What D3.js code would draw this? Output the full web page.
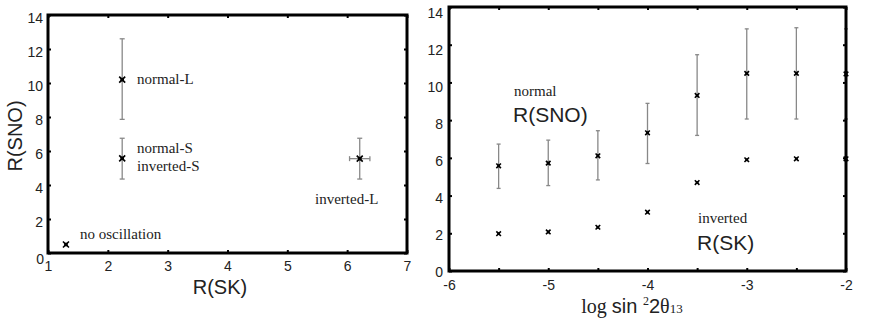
<!DOCTYPE html>
<html><head><meta charset="utf-8">
<script src="https://cdn.jsdelivr.net/npm/d3@7"></script>
<style>
html,body{margin:0;padding:0;background:#fff;}
svg{display:block;}
</style></head>
<body>
<svg id="c" width="872" height="327"></svg>
<script>
// ---- Left panel data: R(SK) vs R(SNO) ----
const leftNames = ["no oscillation", "normal-L", "normal-S", "inverted-L"];
const leftSK = [1.3, 2.24, 2.24, 6.21];
const leftSNO = [0.5, 10.2, 5.57, 5.55];
const leftSNOlo = [0.5, 7.86, 4.35, 4.35];
const leftSNOhi = [0.5, 12.6, 6.75, 6.75];
const leftSKlo = [1.3, 2.24, 2.24, 6.04];
const leftSKhi = [1.3, 2.24, 2.24, 6.38];
const leftXTicks = [1, 2, 3, 4, 5, 6, 7];
const leftYTicks = [0, 2, 4, 6, 8, 10, 12, 14];

// ---- Right panel data: log sin^2 2theta13 ----
const logTheta = [-5.5, -5, -4.5, -4, -3.5, -3, -2.5, -2];
const normalSNO = [5.58, 5.72, 6.11, 7.33, 9.31, 10.48, 10.48, 10.45];
const normalSNOlo = [4.38, 4.53, 4.83, 5.70, 7.19, 8.06, 8.06, 8.06];
const normalSNOhi = [6.73, 6.94, 7.44, 8.89, 11.47, 12.84, 12.9, 12.84];
const invertedSK = [1.98, 2.07, 2.32, 3.12, 4.69, 5.90, 5.95, 5.95];
const rightXTicks = [-6, -5.5, -5, -4.5, -4, -3.5, -3, -2.5, -2];
const rightXLabels = [-6, -5, -4, -3, -2];
const rightYTicks = [0, 2, 4, 6, 8, 10, 12, 14];

const SANS = '"Liberation Sans", Arial, sans-serif';
const SERIF = '"Liberation Serif", "Times New Roman", serif';
const fmt = d => String(d).replace("\u2212", "-");

const svg = d3.select("#c");

function marker(g, x, y, s) {
  g.append("rect").attr("x", x - s * 0.6).attr("y", y - s * 0.6)
    .attr("width", s * 1.2).attr("height", s * 1.2).attr("fill", "#000");
  g.append("path")
    .attr("d", `M${x - s},${y - s}L${x + s},${y + s}M${x - s},${y + s}L${x + s},${y - s}`)
    .attr("stroke", "#000").attr("stroke-width", 1.6);
}

function frameAxes(g, x, y, xTicks, yTicks, tickLen) {
  const [x0, x1] = x.range(), [y0, y1] = y.range();
  const clean = s => { s.select(".domain").remove(); s.selectAll("line").attr("stroke-width", 2); };
  g.append("g").attr("transform", `translate(0,${y0})`)
    .call(d3.axisBottom(x).tickValues(xTicks).tickSizeInner(-tickLen).tickSizeOuter(0).tickFormat(""))
    .call(clean);
  g.append("g").attr("transform", `translate(0,${y1})`)
    .call(d3.axisTop(x).tickValues(xTicks).tickSizeInner(-tickLen).tickSizeOuter(0).tickFormat(""))
    .call(clean);
  g.append("g").attr("transform", `translate(${x0},0)`)
    .call(d3.axisLeft(y).tickValues(yTicks).tickSizeInner(-tickLen).tickSizeOuter(0).tickFormat(""))
    .call(clean);
  g.append("g").attr("transform", `translate(${x1},0)`)
    .call(d3.axisRight(y).tickValues(yTicks).tickSizeInner(-tickLen).tickSizeOuter(0).tickFormat(""))
    .call(clean);
  g.append("rect").attr("x", x0).attr("y", y1).attr("width", x1 - x0).attr("height", y0 - y1)
    .attr("fill", "none").attr("stroke", "#000").attr("stroke-width", 3);
}

// ================= LEFT PANEL =================
{
  const xL = d3.scaleLinear().domain([1, 7]).range([48, 407]);
  const yL = d3.scaleLinear().domain([0, 14]).range([253, 15]);
  const g = svg.append("g");

  const eb = g.append("g").attr("stroke", "#888").attr("stroke-width", 1.3).attr("fill", "none");
  leftSK.forEach((v, i) => {
    if (leftSNOhi[i] !== leftSNOlo[i]) {
      const cx = xL(v);
      eb.append("line").attr("x1", cx).attr("x2", cx).attr("y1", yL(leftSNOlo[i])).attr("y2", yL(leftSNOhi[i]));
      eb.append("line").attr("x1", cx - 2.5).attr("x2", cx + 2.5).attr("y1", yL(leftSNOlo[i])).attr("y2", yL(leftSNOlo[i]));
      eb.append("line").attr("x1", cx - 2.5).attr("x2", cx + 2.5).attr("y1", yL(leftSNOhi[i])).attr("y2", yL(leftSNOhi[i]));
    }
    if (leftSKhi[i] !== leftSKlo[i]) {
      const cy = yL(leftSNO[i]);
      eb.append("line").attr("x1", xL(leftSKlo[i])).attr("x2", xL(leftSKhi[i])).attr("y1", cy).attr("y2", cy);
      eb.append("line").attr("x1", xL(leftSKlo[i])).attr("x2", xL(leftSKlo[i])).attr("y1", cy - 2.5).attr("y2", cy + 2.5);
      eb.append("line").attr("x1", xL(leftSKhi[i])).attr("x2", xL(leftSKhi[i])).attr("y1", cy - 2.5).attr("y2", cy + 2.5);
    }
  });
  leftSK.forEach((v, i) => marker(g, xL(v), yL(leftSNO[i]), 3));

  frameAxes(g, xL, yL, leftXTicks, leftYTicks, 3);

  g.append("g").attr("transform", "translate(0,253)")
    .call(d3.axisBottom(xL).tickValues(leftXTicks).tickSize(0).tickPadding(8).tickFormat(fmt))
    .call(s => s.select(".domain").remove())
    .call(s => s.selectAll("text").attr("font-family", SANS).attr("font-size", 14).attr("fill", "#222"));
  g.append("g").attr("transform", "translate(48,0)")
    .call(d3.axisLeft(yL).tickValues(leftYTicks).tickSize(0).tickPadding(5).tickFormat(fmt))
    .call(s => s.select(".domain").remove())
    .call(s => s.selectAll("text").attr("font-family", SANS).attr("font-size", 14).attr("fill", "#222")
      .attr("dy", d => d === 0 ? "0.75em" : "0.55em").attr("x", d => d === 0 ? -4 : -5));

  g.append("text").attr("font-family", SANS).attr("x", 220).attr("y", 294)
    .attr("text-anchor", "middle").attr("font-size", 20).attr("fill", "#222").text("R(SK)");
  g.append("text").attr("font-family", SANS).attr("transform", "translate(22,136) rotate(-90)")
    .attr("text-anchor", "middle").attr("font-size", 20).attr("fill", "#222").text("R(SNO)");

  const lab = (x, y, t) => g.append("text").attr("font-family", SERIF).attr("x", x).attr("y", y)
    .attr("font-size", 15).attr("fill", "#222").text(t);
  lab(137, 84, leftNames[1]);
  lab(137, 153, leftNames[2]);
  lab(137, 171, "inverted-S");
  lab(315, 204, leftNames[3]);
  lab(80, 239, leftNames[0]);
}

// ================= RIGHT PANEL =================
{
  const xR = d3.scaleLinear().domain([-6, -2]).range([449, 846]);
  const yR = d3.scaleLinear().domain([0, 14]).range([271, 7]);
  const g = svg.append("g");

  const eb = g.append("g").attr("stroke", "#888").attr("stroke-width", 1.3).attr("fill", "none");
  logTheta.forEach((v, i) => {
    const cx = xR(v);
    eb.append("line").attr("x1", cx).attr("x2", cx).attr("y1", yR(normalSNOlo[i])).attr("y2", yR(normalSNOhi[i]));
    eb.append("line").attr("x1", cx - 2).attr("x2", cx + 2).attr("y1", yR(normalSNOlo[i])).attr("y2", yR(normalSNOlo[i]));
    eb.append("line").attr("x1", cx - 2).attr("x2", cx + 2).attr("y1", yR(normalSNOhi[i])).attr("y2", yR(normalSNOhi[i]));
  });
  logTheta.forEach((v, i) => marker(g, xR(v), yR(normalSNO[i]), 2.3));
  logTheta.forEach((v, i) => marker(g, xR(v), yR(invertedSK[i]), 2.3));

  frameAxes(g, xR, yR, rightXTicks, rightYTicks, 3);

  g.append("g").attr("transform", "translate(0,271)")
    .call(d3.axisBottom(xR).tickValues(rightXLabels).tickSize(0).tickPadding(9).tickFormat(fmt))
    .call(s => s.select(".domain").remove())
    .call(s => s.selectAll("text").attr("font-family", SANS).attr("font-size", 14).attr("fill", "#222"));
  g.append("g").attr("transform", "translate(449,0)")
    .call(d3.axisLeft(yR).tickValues(rightYTicks).tickSize(0).tickPadding(6).tickFormat(fmt))
    .call(s => s.select(".domain").remove())
    .call(s => s.selectAll("text").attr("font-family", SANS).attr("font-size", 14).attr("fill", "#222")
      .attr("dy", d => (5 + 5 * d / 14) + "px"));

  const t = g.append("text").attr("x", 632).attr("y", 313).attr("text-anchor", "middle")
    .attr("fill", "#222").attr("font-size", 20);
  t.append("tspan").attr("font-family", SERIF).text("log ");
  t.append("tspan").attr("font-family", SANS).text("sin ");
  t.append("tspan").attr("font-family", SERIF).attr("font-size", 12).attr("dy", -8).text("2");
  t.append("tspan").attr("font-family", SANS).attr("dy", 8).text("2");
  t.append("tspan").attr("font-family", SERIF).text("θ");
  t.append("tspan").attr("font-family", SERIF).attr("font-size", 13).text("13");

  g.append("text").attr("font-family", SERIF).attr("x", 514).attr("y", 96).attr("font-size", 15).attr("fill", "#222").text("normal");
  g.append("text").attr("font-family", SANS).attr("x", 513).attr("y", 122).attr("font-size", 21).attr("fill", "#222").text("R(SNO)");
  g.append("text").attr("font-family", SERIF).attr("x", 698).attr("y", 223).attr("font-size", 15).attr("fill", "#222").text("inverted");
  g.append("text").attr("font-family", SANS).attr("x", 697).attr("y", 250).attr("font-size", 21).attr("fill", "#222").text("R(SK)");
}
</script>
</body></html>
